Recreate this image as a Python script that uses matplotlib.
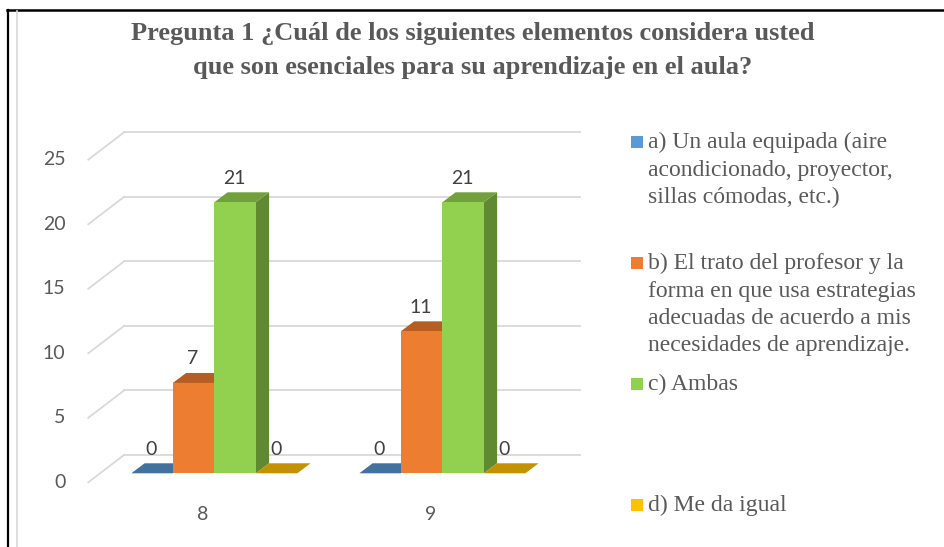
import matplotlib.pyplot as plt
import matplotlib.transforms as mtransforms
from matplotlib.patches import Polygon, Rectangle
from matplotlib.lines import Line2D

# data
categories = ['8', '9']
series_labels = [
    'a) Un aula equipada (aire\nacondicionado, proyector,\nsillas cómodas, etc.)',
    'b) El trato del profesor y la\nforma en que usa estrategias\nadecuadas de acuerdo a mis\nnecesidades de aprendizaje.',
    'c) Ambas',
    'd) Me da igual',
]
values = [
    [0, 0],    # a
    [7, 11],   # b
    [21, 21],  # c
    [0, 0],    # d
]
y_ticks = [0, 5, 10, 15, 20, 25]
title = 'Pregunta 1 ¿Cuál de los siguientes elementos considera usted\nque son esenciales para su aprendizaje en el aula?'

# colours (front, top, side)
front_cols = ['#5B9BD5', '#ED7D31', '#92D050', '#FFC000']
top_cols = ['#41719C', '#B55D22', '#71A03C', '#C49100']
side_cols = ['#41719C', '#B55D22', '#5F8A32', '#C49100']
text_gray = '#595959'
grid_gray = '#D9D9D9'

W, H = 944, 547
fig = plt.figure(figsize=(W / 100, H / 100), dpi=100)

# axes = front plane of the bars
ax_left, ax_right = 100.3, 556.3
ax_bottom_px, ax_top_px = 473.3, 473.3 - 25 * 12.905
ax = fig.add_axes([ax_left / W, (H - ax_bottom_px) / H,
                   (ax_right - ax_left) / W, (ax_bottom_px - ax_top_px) / H])
ax.set_xlim(-0.5, 1.5)
ax.set_ylim(0, 25)
ax.axis('off')

kx = (ax_right - ax_left) / 2.0      # px per category
ky = (ax_bottom_px - ax_top_px) / 25.0  # px per unit


def off(px, py):
    return px / kx, py / ky


wdx, wdy = off(23.7, 18.3)    # back wall
fdx, fdy = off(-12.0, -9.0)   # front edge of floor
bdx, bdy = off(13.3, 10.0)    # bar depth

# back wall gridlines + side diagonals
for v in y_ticks:
    ax.add_line(Line2D([-0.5 + wdx, 1.5 + wdx], [v + wdy, v + wdy],
                       color=grid_gray, lw=1.3, clip_on=False, zorder=1))
    ax.add_line(Line2D([-0.5 + fdx, -0.5 + wdx], [v + fdy, v + wdy],
                       color=grid_gray, lw=1.3, clip_on=False, zorder=1))
    ax.text(-0.5 + fdx - 23 / kx, v + fdy, str(v), ha='right', va='center',
            fontsize=14, color=text_gray, family='Lato')

# category labels
below = ax.transData + mtransforms.ScaledTranslation(0, -0.41, fig.dpi_scale_trans)
for i, c in enumerate(categories):
    ax.text(i + fdx, 0, c, ha='center', va='center', fontsize=14,
            color=text_gray, family='Lato', transform=below)

# bars
bw = 41.5 / kx
n = len(values)
z = 3
for ci in range(len(categories)):
    for si in range(n):
        h = values[si][ci]
        x0 = ci + (si - (n - 1) / 2) * bw - bw / 2
        x1 = x0 + bw
        # side face
        if h > 0:
            ax.add_patch(Polygon([(x1, 0), (x1, h), (x1 + bdx, h + bdy), (x1 + bdx, bdy)],
                                 closed=True, fc=side_cols[si], ec='none', zorder=z, clip_on=False))
        # top face
        ax.add_patch(Polygon([(x0, h), (x1, h), (x1 + bdx, h + bdy), (x0 + bdx, h + bdy)],
                             closed=True, fc=top_cols[si], ec='none', zorder=z, clip_on=False))
        if h > 0:
            ax.bar(x0, h, width=bw, align='edge', color=front_cols[si], zorder=z, clip_on=False)
        ax.annotate(str(h), (x0 + bw / 2, h), xytext=(-0.5, 17.3), textcoords='offset points',
                    ha='center', va='center', fontsize=14, color='#404040', family='Lato',
                    zorder=10)
        z += 1

# title
fig.text(473 / W, 1 - 50.5 / H, title, ha='center', va='center', fontsize=19,
         fontweight='bold', color=text_gray, family='Liberation Serif', linespacing=1.6)

# legend
for i, lab in enumerate(series_labels):
    base = 148.3 + i * 121
    fig.add_artist(Rectangle((631 / W, 1 - (base - 0.5) / H), 11.7 / W, 11.7 / H,
                             transform=fig.transFigure, fc=front_cols[i], ec='none'))
    for j, line in enumerate(lab.split('\n')):
        fig.text(648.3 / W, 1 - (base + j * 27.3) / H, line, ha='left', va='baseline',
                 fontsize=17, color=text_gray, family='Liberation Serif')

# frame lines
fig.add_artist(Line2D([7 / W, 1], [1 - 10 / H, 1 - 10 / H], color='black', lw=1.8,
                      transform=fig.transFigure))
fig.add_artist(Line2D([7.5 / W, 7.5 / W], [0, 1 - 10 / H], color='black', lw=1.6,
                      transform=fig.transFigure))
fig.add_artist(Line2D([16.5 / W, 16.5 / W], [0, 1 - 11 / H], color='#D9D9D9', lw=1.2,
                      transform=fig.transFigure))

fig.savefig('out.png', dpi=100)
